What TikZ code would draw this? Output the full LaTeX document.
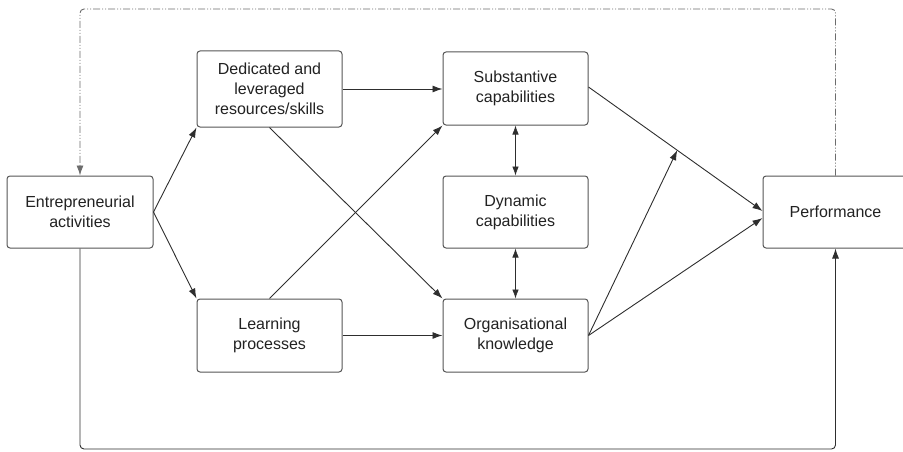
\documentclass[tikz,border=0pt]{standalone}
\usepackage{fontspec}
\setmainfont{Liberation Sans}
\usetikzlibrary{arrows.meta,calc}
\definecolor{linegray}{HTML}{2E2E2E}
\definecolor{boxgray}{HTML}{555555}
\definecolor{txtgray}{HTML}{222222}
\tikzset{
    box/.style={draw=boxgray,line width=1pt,rounded corners=3pt,fill=white,
        minimum width=145pt,minimum height=73pt,align=center,text=txtgray,
        font=\fontsize{16}{20}\selectfont,inner sep=2pt},
    link/.style={draw=linegray,line width=0.9pt,-{Latex[length=10pt,width=7pt]}},
    twoway/.style={draw=linegray,line width=0.7pt,{Latex[length=9pt,width=6.5pt]}-{Latex[length=9pt,width=6.5pt]}},
    feedback/.style={draw=gray!85!black,line width=0.9pt,rounded corners=4pt,
        dash pattern=on 7pt off 2pt on 1pt off 2pt on 1pt off 2pt,
        -{Latex[length=10pt,width=7pt]}}
}
\begin{document}
\begin{tikzpicture}[x=1pt,y=1pt]
    \useasboundingbox (0,0) rectangle (903,451);
    \node[box,minimum width=146pt,minimum height=72pt] (ent) at (80,239) {Entrepreneurial\\activities};
    \node[box,minimum height=76pt] (ded) at (269.5,362) {Dedicated and\\leveraged\\resources/skills};
    \node[box] (lrn) at (269.5,115.5) {Learning\\processes};
    \node[box] (sub) at (515.5,362.5) {Substantive\\capabilities};
    \node[box,minimum height=72pt] (dyn) at (515.5,239) {Dynamic\\capabilities};
    \node[box] (org) at (515.5,115.5) {Organisational\\knowledge};
    \node[box,minimum height=72pt] (perf) at (835.5,239) {Performance};
    % feedback loop
    \draw[feedback] (perf.north) -- (perf.north |- 0,442) -- (ent.north |- 0,442) -- (ent.north);
    \draw[link,rounded corners=4pt] (ent.south) -- (ent.south |- 0,2) -- (perf.south |- 0,2) -- (perf.south);
    % main paths
    \draw[link] (ent.east) -- (ded.south west);
    \draw[link] (ent.east) -- (lrn.north west);
    \draw[link] (ded.east) -- (ded.east -| sub.west);
    \draw[link] (lrn.east) -- (lrn.east -| org.west);
    \draw[link] (ded.south) -- (org.north west);
    \draw[link] (lrn.north) -- (sub.south west);
    \draw[twoway] (sub.south) -- (dyn.north);
    \draw[twoway] (dyn.south) -- (org.north);
    \draw[link] ([yshift=1.5pt]sub.east) -- coordinate[pos=0.51] (mod) ([yshift=1pt]perf.west);
    \draw[link] (org.east) -- (mod);
    \draw[link] (org.east) -- ([yshift=-6pt]perf.west);
\end{tikzpicture}
\end{document}
